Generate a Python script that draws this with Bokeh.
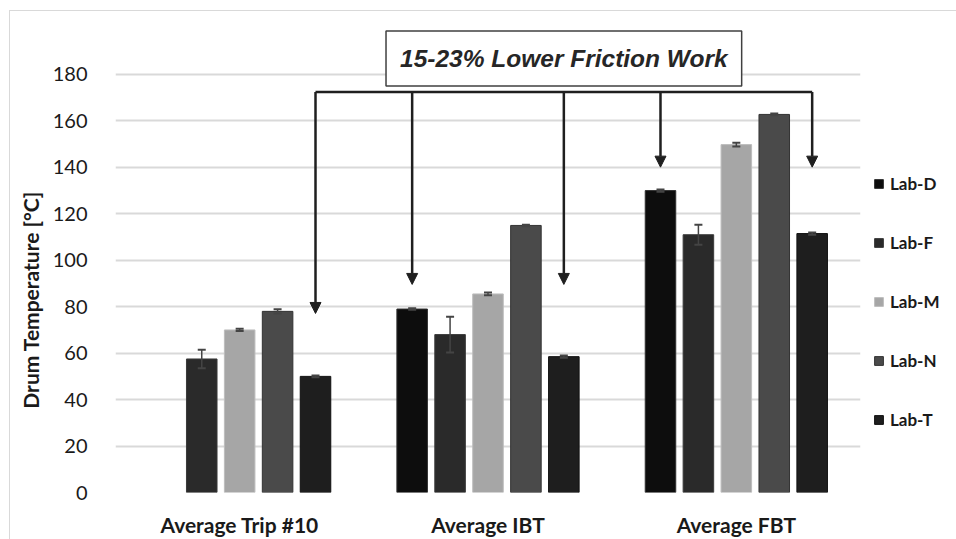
import math
from bokeh.plotting import figure
from bokeh.models import (ColumnDataSource, FactorRange, Range1d, FixedTicker, Whisker, TeeHead,
                          Arrow, NormalHead, Label, Legend, LegendItem)
from bokeh.transform import dodge
from bokeh.core.properties import value
from bokeh.embed import file_html
from bokeh.resources import INLINE

nan = float("nan")

# ---- data ----
categories = ["Average Trip #10", "Average IBT", "Average FBT"]
labs = ["Lab-D", "Lab-F", "Lab-M", "Lab-N", "Lab-T"]
lab_d = [nan, 79.0, 130.0]
lab_f = [57.5, 68.0, 111.0]
lab_m = [70.0, 85.5, 149.8]
lab_n = [78.0, 115.0, 162.8]
lab_t = [50.0, 58.5, 111.5]
err_d = [nan, 0.3, 0.5]
err_f = [4.0, 7.7, 4.3]
err_m = [0.5, 0.6, 0.8]
err_n = [0.9, 0.3, 0.4]
err_t = [0.4, 0.5, 0.5]
y_ticks = [0, 20, 40, 60, 80, 100, 120, 140, 160, 180]
y_title = "Drum Temperature [°C]"

# annotation: arrows point to Lab-D and Lab-T bars
arrow_d_cats = ["Average IBT", "Average FBT"]
arrow_d_tips = [89.6, 140.1]
arrow_t_cats = ["Average Trip #10", "Average IBT", "Average FBT"]
arrow_t_tips = [77.1, 89.6, 140.1]
bracket_level = 172.5
note_text = "15-23% Lower Friction Work"
note_level = 186.9

# ---- style ----
fills = ["#0d0d0d", "#2a2a2a", "#a6a6a6", "#4a4a4a", "#1e1e1e"]
lines = ["#303030", "#3a3a3a", "#bdbdbd", "#333333", "#101010"]
step = 0.1527
offsets = [-2 * step, -step, 0.0, step, 2 * step]
bar_w = 0.123
ink = "#1f1f1f"
FONT = "Lato"

p = figure(x_range=FactorRange(factors=categories, range_padding=0),
           y_range=Range1d(0, 203.25),
           frame_width=745, frame_height=472,
           min_border_left=115, min_border_right=96, min_border_top=20, min_border_bottom=47,
           output_backend="svg", toolbar_location=None, tools="")
p.outline_line_color = None
p.background_fill_color = "white"
p.border_fill_alpha = 0
p.styles = {
    "background": ("linear-gradient(#d9d9d9,#d9d9d9) 9px 10px / 1px 100% no-repeat, "
                   "linear-gradient(#d9d9d9,#d9d9d9) 9px 10px / 100% 1px no-repeat, white"),
}

series = [lab_d, lab_f, lab_m, lab_n, lab_t]
errs = [err_d, err_f, err_m, err_n, err_t]
items = []
for i, lab in enumerate(labs):
    vals = series[i]
    e = errs[i]
    src = ColumnDataSource(dict(
        cat=categories, top=vals,
        upper=[v + d for v, d in zip(vals, e)],
        lower=[v - d for v, d in zip(vals, e)]))
    r = p.vbar(x=dodge("cat", offsets[i], range=p.x_range), top="top", width=bar_w,
               source=src, fill_color=fills[i], line_color=lines[i], line_width=1)
    items.append(LegendItem(label=lab, renderers=[r]))
    w = Whisker(base=dodge("cat", offsets[i], range=p.x_range), upper="upper", lower="lower",
                source=src, line_color="#444444", line_width=1.5, level="overlay",
                upper_head=TeeHead(size=8, line_color="#444444", line_width=2),
                lower_head=TeeHead(size=8, line_color="#444444", line_width=2))
    p.add_layout(w)

# bracket and arrows
bsrc = ColumnDataSource(dict(c0=[arrow_t_cats[0]], c1=[arrow_t_cats[-1]],
                             y=[bracket_level]))
p.segment(x0=dodge("c0", offsets[4], range=p.x_range), y0="y",
          x1=dodge("c1", offsets[4], range=p.x_range), y1="y",
          source=bsrc, line_color=ink, line_width=2.5)

asrc_d = ColumnDataSource(dict(cat=arrow_d_cats, y0=[bracket_level] * len(arrow_d_cats), y1=arrow_d_tips))
asrc_t = ColumnDataSource(dict(cat=arrow_t_cats, y0=[bracket_level] * len(arrow_t_cats), y1=arrow_t_tips))
for src, off in ((asrc_d, offsets[0]), (asrc_t, offsets[4])):
    p.add_layout(Arrow(x_start=dodge("cat", off, range=p.x_range), y_start="y0",
                       x_end=dodge("cat", off, range=p.x_range), y_end="y1", source=src,
                       line_color=ink, line_width=2.5, level="overlay",
                       end=NormalHead(size=11, fill_color=ink, line_color=ink, line_width=1)))

note_x = categories.index("Average IBT") + 0.5 + offsets[4]
p.add_layout(Label(x=note_x, y=note_level, text=note_text, text_align="center",
                   text_baseline="middle", text_font="Liberation Sans", text_font_style="bold italic",
                   text_font_size="24.5px", text_color="#262626",
                   background_fill_color="white", border_line_color="#404040", border_line_width=1.5,
                   padding=14))

# axes & grid
p.yaxis.ticker = FixedTicker(ticks=y_ticks)
p.ygrid.ticker = FixedTicker(ticks=y_ticks)
p.ygrid.grid_line_color = "#d9d9d9"
p.ygrid.grid_line_width = 2
p.xgrid.grid_line_color = None
p.yaxis.axis_line_color = None
p.yaxis.major_tick_line_color = None
p.yaxis.minor_tick_line_color = None
p.yaxis.major_label_standoff = 22
p.yaxis.major_label_text_font = FONT
p.yaxis.major_label_text_font_size = "20px"
p.yaxis.major_label_text_color = "#1a1a1a"
# trailing no-break spaces centre the title on the 0-180 span rather than the whole frame
p.yaxis.axis_label = y_title + "\u00a0" * 17
p.yaxis.axis_label_text_font = FONT
p.yaxis.axis_label_text_font_size = "21px"
p.yaxis.axis_label_text_font_style = "bold"
p.yaxis.axis_label_text_color = "#1a1a1a"
p.yaxis.axis_label_standoff = 7

p.xaxis.axis_line_color = None
p.xaxis.major_tick_line_color = None
p.xaxis.minor_tick_line_color = None
p.xaxis.major_label_standoff = 13
p.xaxis.major_label_text_font = FONT
p.xaxis.major_label_text_font_size = "21px"
p.xaxis.major_label_text_font_style = "bold"
p.xaxis.major_label_text_color = "#1a1a1a"

legend = Legend(items=items, location=(13, 62), orientation="vertical",
                glyph_width=11, glyph_height=11, label_height=20, spacing=38,
                padding=0, margin=0, border_line_color=None, background_fill_alpha=0,
                label_standoff=6, label_text_font=FONT, label_text_font_size="17px",
                label_text_font_style="bold", label_text_color="#1a1a1a")
p.add_layout(legend, "right")

open("out.html", "w").write(file_html(p, INLINE))
